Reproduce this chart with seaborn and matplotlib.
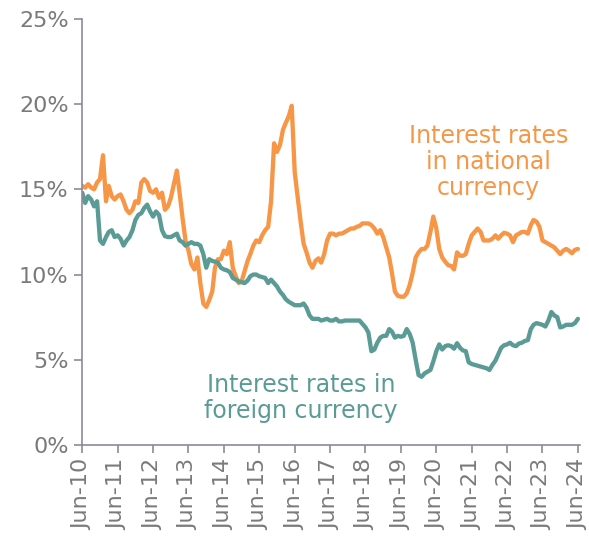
import pandas as pd
import matplotlib
matplotlib.use("Agg")
import matplotlib.pyplot as plt
import matplotlib.ticker as mticker
import seaborn as sns

# Monthly interest rates (%), Jun-2010 .. Jun-2024
start_month = "2010-06-01"

national = [
    15.2, 15.1, 15.3, 15.1, 15.0, 15.4, 15.6, 17.0, 14.3, 15.2, 14.6, 14.4,
    14.6, 14.7, 14.3, 13.8, 13.6, 13.8, 14.3, 14.2, 15.4, 15.6, 15.4, 14.9,
    14.8, 15.0, 14.5, 14.8, 13.8, 14.0, 14.5, 15.3, 16.1, 14.8, 13.3, 12.0,
    11.4, 10.6, 10.3, 11.0, 9.5, 8.3, 8.1, 8.5, 9.0, 10.4, 10.9, 10.9,
    11.4, 11.2, 11.9, 10.4, 9.9, 9.5, 9.6, 10.2, 10.8, 11.2, 11.7, 12.0,
    11.9, 12.3, 12.6, 12.8, 14.3, 17.7, 17.2, 17.6, 18.5, 18.9, 19.3, 19.9,
    16.0, 14.6, 13.1, 11.8, 11.3, 10.7, 10.4, 10.8, 10.95, 10.7, 11.2, 12.0,
    12.4, 12.4, 12.3, 12.4, 12.4, 12.5, 12.6, 12.7, 12.7, 12.8, 12.85, 13.0,
    13.0, 13.0, 12.9, 12.7, 12.4, 12.6, 12.2, 11.6, 11.0, 10.1, 9.0, 8.75,
    8.7, 8.7, 8.9, 9.4, 10.1, 11.0, 11.3, 11.5, 11.5, 11.7, 12.5, 13.4,
    12.7, 11.5, 11.0, 10.75, 10.55, 10.5, 10.3, 11.3, 11.1, 11.1, 11.2, 11.8,
    12.3, 12.5, 12.7, 12.5, 12.0, 12.0, 12.0, 12.1, 12.3, 12.1, 12.3, 12.45,
    12.4, 12.3, 11.9, 12.3, 12.4, 12.5, 12.5, 12.4, 12.9, 13.2, 13.1, 12.8,
    12.0, 11.9, 11.8, 11.7, 11.6, 11.4, 11.2, 11.4, 11.5, 11.4, 11.25, 11.45,
    11.5,
]

foreign = [
    14.8, 14.2, 14.6, 14.4, 14.0, 14.3, 12.0, 11.8, 12.2, 12.5, 12.6, 12.2,
    12.3, 12.1, 11.7, 12.0, 12.2, 12.6, 13.2, 13.5, 13.6, 13.9, 14.1, 13.7,
    13.4, 13.7, 13.5, 12.6, 12.25, 12.2, 12.2, 12.3, 12.4, 12.0, 11.9, 11.7,
    11.8, 11.9, 11.8, 11.8, 11.7, 11.2, 10.4, 10.9, 10.8, 10.75, 10.7, 10.4,
    10.3, 10.25, 10.15, 9.8, 9.7, 9.6, 9.55, 9.5, 9.65, 9.9, 10.0, 10.0,
    9.9, 9.85, 9.8, 9.5, 9.7, 9.5, 9.3, 9.0, 8.8, 8.55, 8.4, 8.3,
    8.2, 8.2, 8.2, 8.3, 8.05, 7.6, 7.4, 7.4, 7.4, 7.3, 7.35, 7.4,
    7.3, 7.3, 7.4, 7.25, 7.25, 7.3, 7.3, 7.3, 7.3, 7.3, 7.3, 7.1,
    6.9, 6.6, 5.5, 5.6, 6.0, 6.3, 6.4, 6.4, 6.8, 6.65, 6.3, 6.4,
    6.35, 6.4, 6.8, 6.5, 6.0, 5.0, 4.1, 4.0, 4.2, 4.3, 4.4, 4.9,
    5.5, 5.9, 5.6, 5.8, 5.85, 5.8, 5.65, 5.97, 5.7, 5.55, 5.5, 4.85,
    4.75, 4.7, 4.65, 4.6, 4.55, 4.5, 4.4, 4.7, 4.95, 5.3, 5.7, 5.85,
    5.9, 6.0, 5.85, 5.8, 5.95, 6.0, 6.1, 6.15, 6.8, 7.05, 7.15, 7.1,
    7.05, 6.95, 7.3, 7.8, 7.6, 7.5, 6.9, 6.95, 7.05, 7.05, 7.05, 7.15,
    7.4,
]

dates = pd.date_range(start_month, periods=len(national), freq="MS")
df = pd.DataFrame({"date": dates, "national": national, "foreign": foreign})

orange = "#F79646"
teal = "#5B9B96"
grey_text = "#7A7A7A"
grey_axis = "#8A8A9C"

sns.set_style("white")
plt.rcParams["font.family"] = ["DejaVu Sans"]

fig = plt.figure(figsize=(5.89, 5.40), dpi=100)
ax = fig.add_axes([0.139, 0.176, 0.845, 0.789])

sns.lineplot(data=df, x="date", y="national", color=orange, linewidth=3.1, ax=ax)
sns.lineplot(data=df, x="date", y="foreign", color=teal, linewidth=3.1, ax=ax)

# axes
ax.set_ylim(0, 25)
ax.set_xlim(pd.Timestamp("2010-05-28"), pd.Timestamp("2024-06-18"))
ax.yaxis.set_major_locator(mticker.MultipleLocator(5))
ax.yaxis.set_major_formatter(mticker.FuncFormatter(lambda v, p: f"{v:.0f}%"))

june_ticks = pd.date_range("2010-06-01", "2024-06-01", freq="12MS")
ax.set_xticks(june_ticks)
ax.set_xticklabels([d.strftime("%b-%y") for d in june_ticks], rotation=90)

ax.set_xlabel("")
ax.set_ylabel("")
for side in ["top", "right"]:
    ax.spines[side].set_visible(False)
for side in ["left", "bottom"]:
    ax.spines[side].set_color(grey_axis)
    ax.spines[side].set_linewidth(1.2)

ax.tick_params(axis="y", colors=grey_axis, labelcolor=grey_text, labelsize=16,
               length=6, width=1.2, direction="out", left=True)
ax.tick_params(axis="x", colors=grey_axis, labelcolor=grey_text, labelsize=16,
               length=6, width=1.2, direction="out", bottom=True, pad=4)

# series labels
ax.text(0.817, 0.664, "Interest rates\nin national\ncurrency", transform=ax.transAxes,
        ha="center", va="center", color=orange, fontsize=17, linespacing=1.1)
ax.text(0.44, 0.11, "Interest rates in\nforeign currency", transform=ax.transAxes,
        ha="center", va="center", color=teal, fontsize=17, linespacing=1.1)

fig.savefig("out.png", dpi=100)
